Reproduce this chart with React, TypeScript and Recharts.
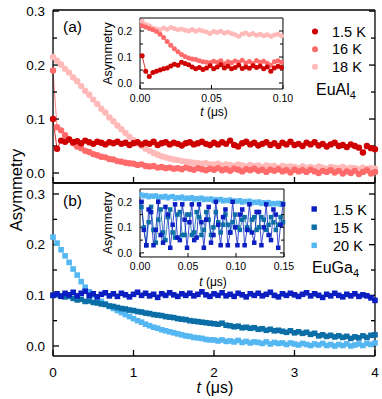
import React from "react";
import { LineChart, Line, XAxis, YAxis } from "recharts";

const FONT = '"Liberation Sans", Arial, Helvetica, sans-serif';

// ---------------------------------------------------------------------------
// Data (asymmetry vs time). Main panels are binned every 0.05 µs from t = 0,
// insets every 0.0025 µs from t = 0.0015 µs.
// ---------------------------------------------------------------------------
const MAIN_T0 = 0;
const MAIN_DT = 0.05;
const INSET_T0 = 0.0015;
const INSET_DT = 0.0025;

// (a) EuAl4, main panel
const AL_1K5 = [
  0.100, 0.045, 0.060, 0.058, 0.062, 0.057, 0.059, 0.055, 0.060, 0.057,
  0.054, 0.058, 0.056, 0.053, 0.057, 0.055, 0.058, 0.054, 0.056, 0.052,
  0.055, 0.057, 0.053, 0.056, 0.054, 0.058, 0.052, 0.055, 0.057, 0.053,
  0.056, 0.054, 0.051, 0.055, 0.057, 0.053, 0.055, 0.058, 0.054, 0.052,
  0.056, 0.053, 0.057, 0.054, 0.060, 0.052, 0.049, 0.055, 0.058, 0.053,
  0.056, 0.051, 0.054, 0.057, 0.052, 0.055, 0.050, 0.056, 0.053, 0.058,
  0.052, 0.054, 0.050, 0.056, 0.053, 0.057, 0.051, 0.054, 0.049, 0.053,
  0.056, 0.050, 0.052, 0.048, 0.053, 0.050, 0.047, 0.038, 0.050, 0.046,
  0.044,
];
const AL_16K = [
  0.190, 0.085, 0.079, 0.070, 0.062, 0.055, 0.049, 0.046, 0.041, 0.039,
  0.035, 0.033, 0.030, 0.029, 0.026, 0.025, 0.022, 0.021, 0.019, 0.018,
  0.017, 0.015, 0.016, 0.013, 0.012, 0.013, 0.010, 0.011, 0.009, 0.010,
  0.008, 0.009, 0.007, 0.010, 0.008, 0.006, 0.009, 0.007, 0.005, 0.008,
  0.006, 0.009, 0.005, 0.007, 0.004, 0.008, 0.006, 0.003, 0.007, 0.005,
  0.008, 0.004, 0.006, 0.002, 0.006, 0.004, 0.007, 0.003, 0.005, 0.001,
  0.006, 0.003, 0.005, 0.002, 0.006, 0.003, 0.000, 0.004, 0.002, 0.005,
  0.001, 0.004, -0.001, 0.003, 0.000, 0.004, -0.002, 0.002, 0.005, -0.001,
  0.002,
];
const AL_18K = [
  0.215, 0.208, 0.201, 0.193, 0.186, 0.177, 0.170, 0.161, 0.152, 0.145,
  0.136, 0.128, 0.119, 0.112, 0.103, 0.096, 0.088, 0.081, 0.074, 0.067,
  0.061, 0.055, 0.050, 0.045, 0.041, 0.037, 0.034, 0.031, 0.029, 0.027,
  0.025, 0.024, 0.022, 0.021, 0.020, 0.019, 0.018, 0.017, 0.018, 0.016,
  0.016, 0.017, 0.014, 0.016, 0.015, 0.013, 0.016, 0.014, 0.012, 0.015,
  0.013, 0.014, 0.011, 0.014, 0.012, 0.013, 0.010, 0.013, 0.011, 0.012,
  0.011, 0.009, 0.012, 0.010, 0.011, 0.009, 0.012, 0.010, 0.008, 0.011,
  0.010, 0.009, 0.011, 0.008, 0.010, 0.009, 0.007, 0.010, 0.008, 0.009,
  0.008,
];

// (b) EuGa4, main panel
const GA_1K5 = [
  0.100, 0.103, 0.098, 0.104, 0.101, 0.106, 0.099, 0.104, 0.108, 0.100,
  0.103, 0.097, 0.102, 0.105, 0.099, 0.103, 0.098, 0.104, 0.101, 0.097,
  0.102, 0.106, 0.100, 0.104, 0.099, 0.102, 0.096, 0.103, 0.100, 0.105,
  0.101, 0.098, 0.103, 0.100, 0.104, 0.099, 0.102, 0.107, 0.101, 0.098,
  0.103, 0.100, 0.105, 0.099, 0.102, 0.098, 0.104, 0.101, 0.097, 0.103,
  0.100, 0.104, 0.099, 0.102, 0.106, 0.100, 0.097, 0.103, 0.100, 0.104,
  0.101, 0.098, 0.102, 0.105, 0.099, 0.103, 0.100, 0.096, 0.102, 0.099,
  0.104, 0.100, 0.097, 0.102, 0.099, 0.103, 0.098, 0.101, 0.099, 0.095,
  0.090,
];
const GA_15K = [
  0.100, 0.101, 0.099, 0.097, 0.098, 0.094, 0.091, 0.092, 0.088, 0.089,
  0.086, 0.085, 0.083, 0.082, 0.079, 0.078, 0.076, 0.074, 0.073, 0.071,
  0.070, 0.068, 0.067, 0.065, 0.064, 0.062, 0.061, 0.060, 0.058, 0.057,
  0.056, 0.054, 0.053, 0.052, 0.050, 0.049, 0.048, 0.047, 0.046, 0.045,
  0.044, 0.043, 0.045, 0.041, 0.040, 0.038, 0.039, 0.036, 0.037, 0.035,
  0.036, 0.033, 0.034, 0.031, 0.033, 0.030, 0.031, 0.029, 0.027, 0.030,
  0.026, 0.028, 0.025, 0.027, 0.023, 0.025, 0.020, 0.022, 0.019, 0.021,
  0.018, 0.020, 0.017, 0.019, 0.015, 0.018, 0.016, 0.020, 0.017, 0.021,
  0.022,
];
const GA_20K = [
  0.215, 0.203, 0.190, 0.178, 0.165, 0.152, 0.140, 0.127, 0.116, 0.107,
  0.100, 0.094, 0.088, 0.083, 0.078, 0.074, 0.070, 0.066, 0.062, 0.058,
  0.054, 0.050, 0.047, 0.043, 0.040, 0.037, 0.035, 0.032, 0.030, 0.028,
  0.026, 0.024, 0.022, 0.020, 0.019, 0.017, 0.016, 0.015, 0.013, 0.012,
  0.012, 0.010, 0.012, 0.009, 0.010, 0.008, 0.011, 0.007, 0.009, 0.006,
  0.008, 0.007, 0.005, 0.008, 0.004, 0.007, 0.005, 0.006, 0.003, 0.006,
  0.004, 0.002, 0.005, 0.003, 0.001, 0.004, 0.002, 0.005, 0.001, 0.003,
  0.000, 0.003, 0.001, 0.004, 0.000, 0.002, 0.004, 0.001, 0.005, 0.003,
  0.006,
];

// (a) inset, early times
const AL_IN_1K5 = [
  0.105, 0.045, 0.025, 0.040, 0.045, 0.050, 0.055, 0.058, 0.065, 0.072,
  0.068, 0.080, 0.075, 0.070, 0.062, 0.055, 0.060, 0.052, 0.058, 0.066,
  0.055, 0.062, 0.070, 0.058, 0.064, 0.055, 0.060, 0.068, 0.056, 0.062,
  0.057, 0.066, 0.060, 0.064, 0.055, 0.062, 0.045, 0.058, 0.064, 0.060,
];
const AL_IN_16K = [
  0.220, 0.215, 0.210, 0.205, 0.198, 0.188, 0.175, 0.160, 0.145, 0.132,
  0.120, 0.110, 0.102, 0.096, 0.092, 0.090, 0.086, 0.082, 0.080, 0.078,
  0.084, 0.080, 0.086, 0.074, 0.082, 0.078, 0.085, 0.080, 0.088, 0.077,
  0.083, 0.075, 0.087, 0.080, 0.084, 0.076, 0.068, 0.082, 0.086, 0.080,
];
const AL_IN_18K = [
  0.238, 0.225, 0.220, 0.212, 0.208, 0.205, 0.212, 0.207, 0.214, 0.210,
  0.205, 0.208, 0.203, 0.200, 0.206, 0.199, 0.204, 0.200, 0.196, 0.190,
  0.198, 0.194, 0.199, 0.192, 0.196, 0.190, 0.186, 0.180, 0.189, 0.192,
  0.186, 0.190, 0.184, 0.188, 0.182, 0.186, 0.180, 0.185, 0.188, 0.182,
];

// (b) inset, early times (precession at 1.5 K and 15 K)
const GA_IN_1K5 = [
  0.20, 0.09, 0.03, 0.17, 0.16, 0.03, 0.09, 0.20, 0.07, 0.04,
  0.18, 0.15, 0.02, 0.11, 0.19, 0.06, 0.05, 0.19, 0.13, 0.02,
  0.12, 0.19, 0.05, 0.06, 0.19, 0.12, 0.02, 0.13, 0.18, 0.04,
  0.07, 0.20, 0.11, 0.03, 0.14, 0.17, 0.03, 0.08, 0.20, 0.10,
  0.03, 0.15, 0.17, 0.03, 0.09, 0.19, 0.08, 0.04, 0.16, 0.16,
  0.03, 0.10, 0.19, 0.07, 0.05, 0.17, 0.15, 0.02, 0.11, 0.19,
];
const GA_IN_15K = [
  0.18, 0.10, 0.03, 0.12, 0.18, 0.09, 0.04, 0.13, 0.17, 0.08,
  0.05, 0.14, 0.17, 0.08, 0.06, 0.15, 0.16, 0.07, 0.07, 0.15,
  0.15, 0.07, 0.08, 0.16, 0.14, 0.07, 0.09, 0.16, 0.13, 0.07,
  0.10, 0.16, 0.12, 0.08, 0.11, 0.15, 0.11, 0.08, 0.12, 0.15,
  0.10, 0.09, 0.13, 0.14, 0.10, 0.09, 0.13, 0.14, 0.09, 0.10,
  0.14, 0.13, 0.09, 0.11, 0.14, 0.12, 0.09, 0.11, 0.14, 0.12,
];
const GA_IN_20K = [
  0.228, 0.222, 0.226, 0.218, 0.224, 0.220, 0.225, 0.215, 0.221, 0.217,
  0.223, 0.214, 0.219, 0.222, 0.212, 0.218, 0.214, 0.220, 0.211, 0.216,
  0.212, 0.218, 0.209, 0.214, 0.210, 0.216, 0.207, 0.212, 0.208, 0.213,
  0.204, 0.210, 0.206, 0.211, 0.202, 0.207, 0.203, 0.209, 0.200, 0.205,
  0.201, 0.206, 0.197, 0.203, 0.199, 0.204, 0.195, 0.200, 0.196, 0.201,
  0.192, 0.198, 0.194, 0.199, 0.190, 0.195, 0.191, 0.196, 0.188, 0.193,
];

// ticks
const MAIN_X_MAJOR = [0, 1, 2, 3, 4];
const MAIN_X_MINOR = [0.5, 1.5, 2.5, 3.5];
const MAIN_Y_MAJOR = [0, 0.1, 0.2, 0.3];
const MAIN_Y_MINOR = [0.05, 0.15, 0.25];
const AL_IN_X_MAJOR = [0, 0.05, 0.1];
const AL_IN_X_MINOR = [0.025, 0.075];
const GA_IN_X_MAJOR = [0, 0.05, 0.1, 0.15];
const GA_IN_X_MINOR = [0.025, 0.075, 0.125];
const IN_Y_MAJOR = [0, 0.1, 0.2];
const IN_Y_MINOR = [0.05, 0.15];

// colours
const RED_1K5 = "#cf0000";
const RED_16K = "#ff6a6a";
const RED_18K = "#ffb9b9";
const BLUE_1K5 = "#0a1ec2";
const BLUE_15K = "#0b6ea6";
const BLUE_20K = "#55b7f2";

const AL_LEGEND = ["1.5 K", "16 K", "18 K"];
const GA_LEGEND = ["1.5 K", "15 K", "20 K"];

// axes get a hair of thickness: zero-sized axes are not drawn at all
const THIN = 0.01;

// ---------------------------------------------------------------------------
// Helpers
// ---------------------------------------------------------------------------
function toPoints(t0: number, dt: number, values: number[]) {
  return values.map((v, i) => ({ t: +(t0 + i * dt).toFixed(5), v }));
}

type Marker = "circle" | "square";

function markerFn(shape: Marker, color: string, size: number) {
  return (p: any) => {
    const k = `m-${p.index}`;
    if (p.cx == null || p.cy == null) return <g key={k} />;
    if (shape === "circle") {
      return <circle key={k} cx={p.cx} cy={p.cy} r={size / 2} fill={color} />;
    }
    return (
      <rect key={k} x={p.cx - size / 2} y={p.cy - size / 2} width={size} height={size} fill={color} />
    );
  };
}

function seriesLines(
  list: { color: string; values: number[] }[],
  t0: number,
  dt: number,
  shape: Marker,
  size: number,
  lineWidth: number
) {
  return list.map((s, i) => (
    <Line
      key={`s${i}`}
      data={toPoints(t0, dt, s.values)}
      dataKey="v"
      xAxisId="x"
      yAxisId="y"
      type="linear"
      stroke={s.color}
      strokeWidth={lineWidth}
      dot={markerFn(shape, s.color, size)}
      activeDot={false}
      legendType="none"
      isAnimationActive={false}
    />
  ));
}

interface FrameOpts {
  xDomain: [number, number];
  yDomain: [number, number];
  xMajor: number[];
  xMinor: number[];
  yMajor: number[];
  yMinor: number[];
  xFmt?: (v: number) => string;
  yFmt: (v: number) => string;
  fontSize: number;
  majorLen: number;
  minorLen: number;
  xGap: number;
  yGap: number;
  lineWidth: number;
}

// box frame with inward ticks on all four sides
function frameAxes(o: FrameOpts) {
  const line = { stroke: "#000", strokeWidth: o.lineWidth };
  const tick = { fill: "#000", fontSize: o.fontSize, fontFamily: FONT };
  const blank = () => "";
  const deco = { type: "number" as const, allowDataOverflow: true, interval: 0 as const };
  return [
    <XAxis key="xb" xAxisId="x" dataKey="t" type="number" domain={o.xDomain} ticks={o.xMajor}
      interval={0} height={THIN} tickSize={-o.majorLen} tickMargin={o.xGap + o.majorLen}
      tickFormatter={o.xFmt ?? blank} tick={tick} axisLine={line} tickLine={line} />,
    <XAxis key="xbm" xAxisId="xbm" {...deco} domain={o.xDomain} ticks={o.xMinor} height={THIN}
      tickSize={-o.minorLen} tickFormatter={blank} axisLine={false} tickLine={line} />,
    <XAxis key="xt" xAxisId="xt" orientation="top" {...deco} domain={o.xDomain} ticks={o.xMajor}
      height={THIN} tickSize={-o.majorLen} tickFormatter={blank} axisLine={line} tickLine={line} />,
    <XAxis key="xtm" xAxisId="xtm" orientation="top" {...deco} domain={o.xDomain} ticks={o.xMinor}
      height={THIN} tickSize={-o.minorLen} tickFormatter={blank} axisLine={false} tickLine={line} />,
    <YAxis key="yl" yAxisId="y" type="number" domain={o.yDomain} ticks={o.yMajor} interval={0}
      width={THIN} tickSize={-o.majorLen} tickMargin={o.yGap + o.majorLen} tickFormatter={o.yFmt}
      tick={tick} axisLine={line} tickLine={line} />,
    <YAxis key="ylm" yAxisId="ylm" {...deco} domain={o.yDomain} ticks={o.yMinor} width={THIN}
      tickSize={-o.minorLen} tickFormatter={blank} axisLine={false} tickLine={line} />,
    <YAxis key="yr" yAxisId="yr" orientation="right" {...deco} domain={o.yDomain} ticks={o.yMajor}
      width={THIN} tickSize={-o.majorLen} tickFormatter={blank} axisLine={line} tickLine={line} />,
    <YAxis key="yrm" yAxisId="yrm" orientation="right" {...deco} domain={o.yDomain} ticks={o.yMinor}
      width={THIN} tickSize={-o.minorLen} tickFormatter={blank} axisLine={false} tickLine={line} />,
  ];
}

const MAIN_FRAME = {
  xDomain: [0, 4] as [number, number],
  xMajor: MAIN_X_MAJOR,
  xMinor: MAIN_X_MINOR,
  yMajor: MAIN_Y_MAJOR,
  yMinor: MAIN_Y_MINOR,
  yFmt: (v: number) => v.toFixed(1),
  fontSize: 13.5,
  majorLen: 6,
  minorLen: 4,
  xGap: 11,
  yGap: 8,
  lineWidth: 1.3,
};

const INSET_FRAME = {
  yMajor: IN_Y_MAJOR,
  yMinor: IN_Y_MINOR,
  xFmt: (v: number) => v.toFixed(2),
  yFmt: (v: number) => v.toFixed(1),
  fontSize: 10.5,
  majorLen: 4,
  minorLen: 3,
  xGap: 6,
  yGap: 8,
  lineWidth: 1,
};

function Sub({ children }: { children: React.ReactNode }) {
  return (
    <tspan dy={4} fontSize={11}>
      {children}
    </tspan>
  );
}

// ---------------------------------------------------------------------------
// Figure
// ---------------------------------------------------------------------------
export default function App() {
  const alMain = [
    { color: RED_18K, values: AL_18K },
    { color: RED_16K, values: AL_16K },
    { color: RED_1K5, values: AL_1K5 },
  ];
  const gaMain = [
    { color: BLUE_20K, values: GA_20K },
    { color: BLUE_15K, values: GA_15K },
    { color: BLUE_1K5, values: GA_1K5 },
  ];
  const alInset = [
    { color: RED_18K, values: AL_IN_18K },
    { color: RED_16K, values: AL_IN_16K },
    { color: RED_1K5, values: AL_IN_1K5 },
  ];
  const gaInset = [
    { color: BLUE_20K, values: GA_IN_20K },
    { color: BLUE_15K, values: GA_IN_15K },
    { color: BLUE_1K5, values: GA_IN_1K5 },
  ];
  const alColors = [RED_1K5, RED_16K, RED_18K];
  const gaColors = [BLUE_1K5, BLUE_15K, BLUE_20K];
  const alLegendY = [31.5, 49.3, 66.8];
  const gaLegendY = [209, 227.2, 245.4];

  return (
    <div
      style={{
        position: "absolute",
        left: 0,
        top: 0,
        width: 382,
        height: 399,
        background: "#fff",
        fontFamily: FONT,
        overflow: "hidden",
      }}
    >
      {/* (a) EuAl4 main */}
      <div style={{ position: "absolute", left: 0, top: 0 }}>
        <LineChart width={382} height={190} margin={{ top: 10, right: 7, bottom: 7, left: 53 }}>
          {frameAxes({ ...MAIN_FRAME, yDomain: [-0.0185, 0.302] })}
          {seriesLines(alMain, MAIN_T0, MAIN_DT, "circle", 6.4, 0.8)}
        </LineChart>
      </div>

      {/* (b) EuGa4 main */}
      <div style={{ position: "absolute", left: 0, top: 176 }}>
        <LineChart width={382} height={223} margin={{ top: 7, right: 7, bottom: 43, left: 53 }}>
          {frameAxes({
            ...MAIN_FRAME,
            yDomain: [-0.0197, 0.3217],
            xFmt: (v: number) => String(v),
          })}
          {seriesLines(gaMain, MAIN_T0, MAIN_DT, "square", 5.6, 0.8)}
        </LineChart>
      </div>

      {/* (a) inset */}
      <div style={{ position: "absolute", left: 95, top: 8 }}>
        <LineChart width={200} height={115} margin={{ top: 10, right: 12, bottom: 34, left: 45 }}>
          {frameAxes({
            ...INSET_FRAME,
            xDomain: [0, 0.1],
            yDomain: [-0.023, 0.25],
            xMajor: AL_IN_X_MAJOR,
            xMinor: AL_IN_X_MINOR,
          })}
          {seriesLines(alInset, INSET_T0, INSET_DT, "circle", 5, 0.8)}
        </LineChart>
      </div>

      {/* (b) inset */}
      <div style={{ position: "absolute", left: 95, top: 181 }}>
        <LineChart width={200} height={110} margin={{ top: 8, right: 11, bottom: 34, left: 45 }}>
          {frameAxes({
            ...INSET_FRAME,
            xDomain: [0, 0.15],
            yDomain: [-0.016, 0.25],
            xMajor: GA_IN_X_MAJOR,
            xMinor: GA_IN_X_MINOR,
          })}
          {seriesLines(gaInset, INSET_T0, INSET_DT, "square", 4.5, 0.8)}
        </LineChart>
      </div>

      {/* labels, legends */}
      <svg
        width={382}
        height={399}
        style={{ position: "absolute", left: 0, top: 0, pointerEvents: "none", fontFamily: FONT }}
      >
        <text x={63} y={32} fontSize={15.5} fill="#000">(a)</text>
        <text x={63} y={206} fontSize={15.5} fill="#000">(b)</text>

        <text transform="translate(16,190) rotate(-90)" textAnchor="middle" dy="0.35em" fontSize={16.5} fill="#000">
          Asymmetry
        </text>
        <text x={215} y={393} textAnchor="middle" fontSize={16} fill="#000">
          <tspan fontStyle="italic">t</tspan> (μs)
        </text>

        <text transform="translate(108,53.5) rotate(-90)" textAnchor="middle" dy="0.35em" fontSize={12.5} fill="#000">
          Asymmetry
        </text>
        <text x={214} y={116} textAnchor="middle" fontSize={12} fill="#000">
          <tspan fontStyle="italic">t</tspan> (μs)
        </text>
        <text transform="translate(108,223) rotate(-90)" textAnchor="middle" dy="0.35em" fontSize={12.5} fill="#000">
          Asymmetry
        </text>
        <text x={213} y={286} textAnchor="middle" fontSize={12} fill="#000">
          <tspan fontStyle="italic">t</tspan> (μs)
        </text>

        {AL_LEGEND.map((label, i) => (
          <g key={`la${i}`}>
            <circle cx={315} cy={alLegendY[i]} r={3} fill={alColors[i]} />
            <text x={332} y={alLegendY[i] + 5} fontSize={14.5} fill="#000">{label}</text>
          </g>
        ))}
        <text x={316} y={95} fontSize={16} fill="#000">
          EuAl<Sub>4</Sub>
        </text>

        {GA_LEGEND.map((label, i) => (
          <g key={`lg${i}`}>
            <rect x={311.5} y={gaLegendY[i] - 2.7} width={5.4} height={5.4} fill={gaColors[i]} />
            <text x={333} y={gaLegendY[i] + 5.5} fontSize={14.5} fill="#000">{label}</text>
          </g>
        ))}
        <text x={312} y={273} fontSize={16} fill="#000">
          EuGa<Sub>4</Sub>
        </text>
      </svg>
    </div>
  );
}
